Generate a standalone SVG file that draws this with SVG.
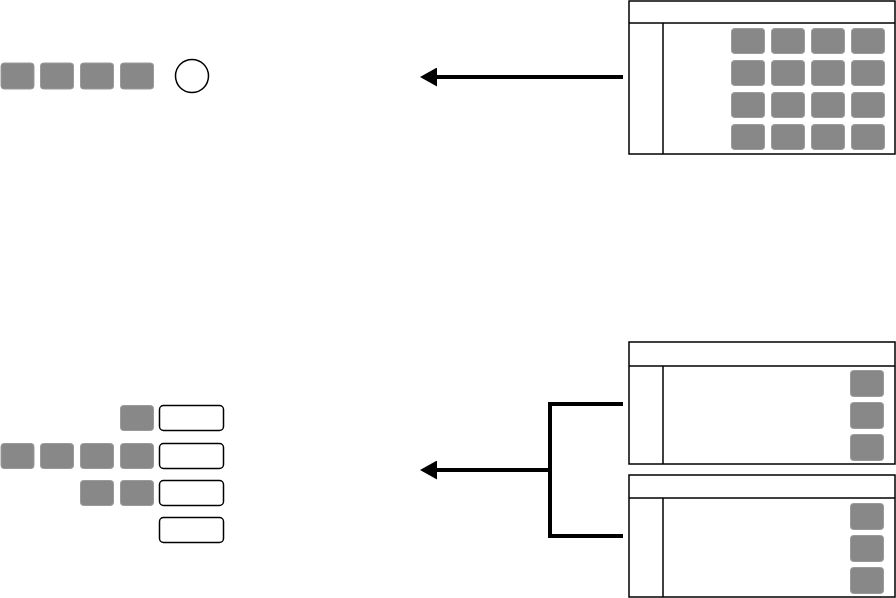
<svg xmlns="http://www.w3.org/2000/svg" width="896" height="598" viewBox="0 0 896 598">
<style>
.g{fill:#888888;stroke:#9a9a9a;stroke-width:1}
.o{fill:#ffffff;stroke:#000000;stroke-width:1.5}
.p{fill:#ffffff;stroke:#000000;stroke-width:1.5}
.ln{stroke:#000000;stroke-width:1.5}
.c{fill:none;stroke:#000000;stroke-width:4}
</style>
<defs>
<marker id="ah" viewBox="0 0 17 19" refX="0" refY="9.5" markerUnits="userSpaceOnUse" markerWidth="17" markerHeight="19" orient="auto-start-reverse">
<path d="M0,0 L17,9.5 L0,19 Z" fill="#000000"/>
</marker>
</defs>
<g id="top-left">
<rect class="g" x="1" y="63" width="33" height="26" rx="3"/>
<rect class="g" x="40.5" y="63" width="33" height="26" rx="3"/>
<rect class="g" x="80.5" y="63" width="33" height="26" rx="3"/>
<rect class="g" x="120.5" y="63" width="33" height="26" rx="3"/>
<circle cx="192" cy="76" r="16.5" fill="#ffffff" stroke="#000000" stroke-width="1.5"/>
</g>
<g id="top-right">
<rect class="p" x="629" y="1" width="266" height="153"/>
<line class="ln" x1="629" y1="23" x2="895" y2="23"/>
<line class="ln" x1="663" y1="23" x2="663" y2="154"/>
<g>
<rect class="g" x="731.5" y="28.5" width="33" height="25" rx="3"/>
<rect class="g" x="771.5" y="28.5" width="33" height="25" rx="3"/>
<rect class="g" x="811.5" y="28.5" width="33" height="25" rx="3"/>
<rect class="g" x="851.5" y="28.5" width="33" height="25" rx="3"/>
<rect class="g" x="731.5" y="60.5" width="33" height="25" rx="3"/>
<rect class="g" x="771.5" y="60.5" width="33" height="25" rx="3"/>
<rect class="g" x="811.5" y="60.5" width="33" height="25" rx="3"/>
<rect class="g" x="851.5" y="60.5" width="33" height="25" rx="3"/>
<rect class="g" x="731.5" y="92.5" width="33" height="25" rx="3"/>
<rect class="g" x="771.5" y="92.5" width="33" height="25" rx="3"/>
<rect class="g" x="811.5" y="92.5" width="33" height="25" rx="3"/>
<rect class="g" x="851.5" y="92.5" width="33" height="25" rx="3"/>
<rect class="g" x="731.5" y="124.5" width="33" height="25" rx="3"/>
<rect class="g" x="771.5" y="124.5" width="33" height="25" rx="3"/>
<rect class="g" x="811.5" y="124.5" width="33" height="25" rx="3"/>
<rect class="g" x="851.5" y="124.5" width="33" height="25" rx="3"/>
</g>
</g>
<g id="bottom-left">
<rect class="g" x="120.5" y="405.5" width="33" height="25" rx="3"/>
<rect class="g" x="1" y="443.5" width="33" height="25" rx="3"/>
<rect class="g" x="40.5" y="443.5" width="33" height="25" rx="3"/>
<rect class="g" x="80.5" y="443.5" width="33" height="25" rx="3"/>
<rect class="g" x="120.5" y="443.5" width="33" height="25" rx="3"/>
<rect class="g" x="80.5" y="480.5" width="33" height="25" rx="3"/>
<rect class="g" x="120.5" y="480.5" width="33" height="25" rx="3"/>
<rect class="o" x="159.5" y="405.5" width="64" height="25" rx="4"/>
<rect class="o" x="159.5" y="443.5" width="64" height="25" rx="4"/>
<rect class="o" x="159.5" y="480.5" width="64" height="25" rx="4"/>
<rect class="o" x="159.5" y="517.5" width="64" height="25" rx="4"/>
</g>
<g id="bottom-right-1">
<rect class="p" x="629" y="342" width="266" height="122"/>
<line class="ln" x1="629" y1="366" x2="895" y2="366"/>
<line class="ln" x1="663" y1="366" x2="663" y2="464"/>
<rect class="g" x="850.5" y="370.5" width="33" height="26" rx="3"/>
<rect class="g" x="850.5" y="402.5" width="33" height="26" rx="3"/>
<rect class="g" x="850.5" y="434.5" width="33" height="26" rx="3"/>
</g>
<g id="bottom-right-2">
<rect class="p" x="629" y="475" width="266" height="122"/>
<line class="ln" x1="629" y1="498" x2="895" y2="498"/>
<line class="ln" x1="663" y1="498" x2="663" y2="597"/>
<rect class="g" x="850.5" y="503.5" width="33" height="26" rx="3"/>
<rect class="g" x="850.5" y="535.5" width="33" height="26" rx="3"/>
<rect class="g" x="850.5" y="567.5" width="33" height="26" rx="3"/>
</g>
<g id="connectors">
<line class="c" x1="623" y1="77" x2="437" y2="77" marker-end="url(#ah)"/>
<path class="c" d="M623,404 H550 V536 H623"/>
<line class="c" x1="550" y1="470" x2="437" y2="470" marker-end="url(#ah)"/>
</g>
</svg>
